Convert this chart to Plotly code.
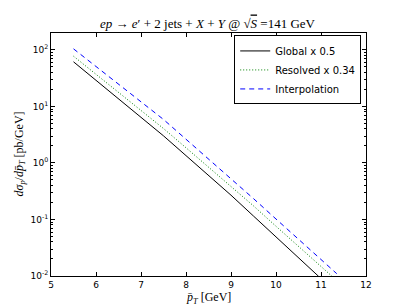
import plotly.graph_objects as go

pt_global = [5.5, 6.0, 6.5, 7.0, 7.5, 8.0, 8.5, 9.0, 9.5, 10.0, 10.5, 10.95]
global_vals = [61.7, 29.2, 13.8, 6.53, 3.02, 1.35, 0.603, 0.269, 0.115, 0.049, 0.0209, 0.0098]
pt_res = [5.5, 6.0, 6.5, 7.0, 7.5, 8.0, 8.5, 9.0, 9.5, 10.0, 10.5, 11.0, 11.25]
resolved_vals = [77.6, 37.4, 18.1, 8.71, 4.07, 1.86, 0.851, 0.389, 0.174, 0.0759, 0.0331, 0.0148, 0.0098]
pt_interp = [5.5, 6.0, 6.5, 7.0, 7.5, 8.0, 8.5, 9.0, 9.5, 10.0, 10.5, 11.0, 11.35]
interp_vals = [104.7, 51.3, 25.1, 12.4, 5.89, 2.63, 1.19, 0.537, 0.234, 0.102, 0.0447, 0.0195, 0.011]

y_tickvals = [0.01, 0.1, 1, 10, 100]
y_ticktext = ["10<sup>-2</sup>", "10<sup>-1</sup>", "10<sup>0</sup>", "10<sup>1</sup>", "10<sup>2</sup>"]
x_tickvals = [5, 6, 7, 8, 9, 10, 11, 12]

minor_vals = [m * 10.0 ** e for e in range(-2, 3) for m in range(2, 10)]

fig = go.Figure()
fig.add_trace(go.Scatter(x=pt_global, y=global_vals, mode="lines", name="Global x 0.5",
                         line=dict(color="black", width=1)))
fig.add_trace(go.Scatter(x=pt_res, y=resolved_vals, mode="lines", name="Resolved x 0.34",
                         line=dict(color="#008000", width=1, dash="1px,2px")))
fig.add_trace(go.Scatter(x=pt_interp, y=interp_vals, mode="lines", name="Interpolation",
                         line=dict(color="#0000ff", width=1, dash="5px,4px")))

axis_common = dict(showgrid=False, zeroline=False, showline=True, linecolor="black", linewidth=1,
                   mirror="ticks", ticks="inside", tickcolor="black", ticklen=4, automargin=False,
                   tickfont=dict(family="DejaVu Sans", size=9, color="black"))

fig.update_layout(
    width=399, height=299,
    margin=dict(l=43, r=41, t=25, b=31, autoexpand=False),
    paper_bgcolor="white", plot_bgcolor="white",
    showlegend=True,
    title=dict(text="<i>ep</i> → <i>e</i>′ + 2 jets + <i>X</i> + <i>Y</i> @ √<span style='text-decoration:overline'><i>S</i></span> =141 GeV",
               x=0.5, xanchor="center", y=0.95, yanchor="middle",
               font=dict(family="Liberation Serif", size=13, color="black")),
    xaxis=dict(range=[5, 12], tickvals=x_tickvals, **axis_common),
    yaxis=dict(type="log", range=[-2, 2.3], tickvals=y_tickvals, ticktext=y_ticktext,
               minor=dict(ticks="inside", ticklen=2, tickcolor="black", tickmode="array",
                          tickvals=minor_vals),
               **axis_common),
    legend=dict(x=0.9848, xanchor="right", y=0.99, yanchor="top",
                bordercolor="black", borderwidth=1, bgcolor="white",
                font=dict(family="DejaVu Sans", size=10, color="black"),
                tracegroupgap=0, itemwidth=30),
    annotations=[
        dict(text="<i>p̄<sub>T</sub></i> [GeV]", xref="paper", yref="paper",
             x=0.5, y=0, xanchor="center", yanchor="top", yshift=-12, showarrow=False,
             font=dict(family="Liberation Serif", size=12, color="black")),
        dict(text="<i>dσ<sub>p</sub></i>/<i>dp̄<sub>T</sub></i> [pb/GeV]", xref="paper", yref="paper",
             x=0, y=0.5, xanchor="right", yanchor="middle", xshift=-22, textangle=-90,
             showarrow=False, font=dict(family="Liberation Serif", size=12, color="black")),
    ],
)

fig.write_html("out.html")
